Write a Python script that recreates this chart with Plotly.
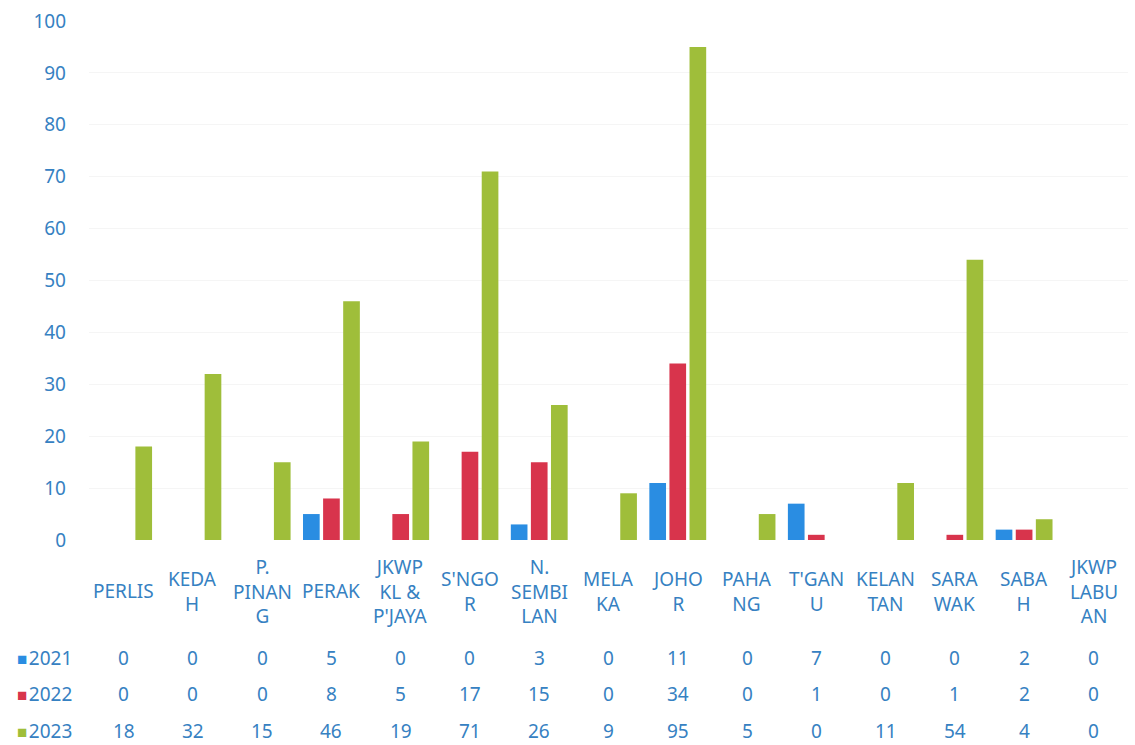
import plotly.graph_objects as go

categories = ["PERLIS", "KEDA<br>H", "P.<br>PINAN<br>G", "PERAK", "JKWP<br>KL &<br>P'JAYA",
              "S'NGO<br>R", "N.<br>SEMBI<br>LAN", "MELA<br>KA", "JOHO<br>R", "PAHA<br>NG",
              "T'GAN<br>U", "KELAN<br>TAN", "SARA<br>WAK", "SABA<br>H", "JKWP<br>LABU<br>AN"]
years = ["2021", "2022", "2023"]
v2021 = [0, 0, 0, 5, 0, 0, 3, 0, 11, 0, 7, 0, 0, 2, 0]
v2022 = [0, 0, 0, 8, 5, 17, 15, 0, 34, 0, 1, 0, 1, 2, 0]
v2023 = [18, 32, 15, 46, 19, 71, 26, 9, 95, 5, 0, 11, 54, 4, 0]
yticks = [0, 10, 20, 30, 40, 50, 60, 70, 80, 90, 100]

colors = ["#2A8DE2", "#D8344C", "#9FBE3A"]
series = [v2021, v2022, v2023]
txt = "#3681C2"
FONT = "Noto Sans"

x_idx = list(range(len(categories)))

fig = go.Figure()
for name, vals, col in zip(years, series, colors):
    fig.add_trace(go.Bar(x=x_idx, y=vals, name=name, marker=dict(color=col, line=dict(width=0)),
                         showlegend=False))

ML, MR, MT, MB = 89, 7, 21, 205
W, H = 1135, 745
PH = H - MT - MB

def py(px):
    return -(px - (H - MB)) / PH

ann = []
for i, c in enumerate(categories):
    ann.append(dict(x=i, y=py(591), xref="x", yref="paper", text=c, showarrow=False,
                    xanchor="center", yanchor="middle", align="center",
                    font=dict(family=FONT, size=19, color=txt)))

row_px = [658, 694, 731]
for name, vals, col, rp in zip(years, series, colors, row_px):
    for i, v in enumerate(vals):
        ann.append(dict(x=i, y=py(rp), xref="x", yref="paper", text=str(v), showarrow=False,
                        xanchor="center", yanchor="middle",
                        font=dict(family=FONT, size=19, color=txt)))
    ann.append(dict(x=(15 - ML) / (W - ML - MR), y=py(rp), xref="paper", yref="paper",
                    text=f"<span style='color:{col};font-size:17px'>■</span><span style='font-size:6px'> </span>{name}",
                    showarrow=False, xanchor="left", yanchor="middle",
                    font=dict(family=FONT, size=19, color=txt)))

fig.update_layout(
    width=W, height=H,
    margin=dict(l=ML, r=MR, t=MT, b=MB),
    paper_bgcolor="white", plot_bgcolor="white",
    barmode="group", bargap=0.13, bargroupgap=0.17,
    font=dict(family=FONT, color=txt),
    xaxis=dict(range=[-0.5, len(categories) - 0.5], showticklabels=False, showgrid=False,
               zeroline=False, showline=False, ticks=""),
    yaxis=dict(range=[0, 100], tickvals=yticks, showgrid=True, gridcolor="#f5f5f5",
               zeroline=False, showline=False, ticks="",
               tickfont=dict(family=FONT, size=19, color=txt), ticklabelstandoff=22),
    annotations=ann,
)

fig.write_html("out.html", config={"displayModeBar": False},
               post_script="document.body.style.margin='0';document.body.style.overflow='hidden';")
